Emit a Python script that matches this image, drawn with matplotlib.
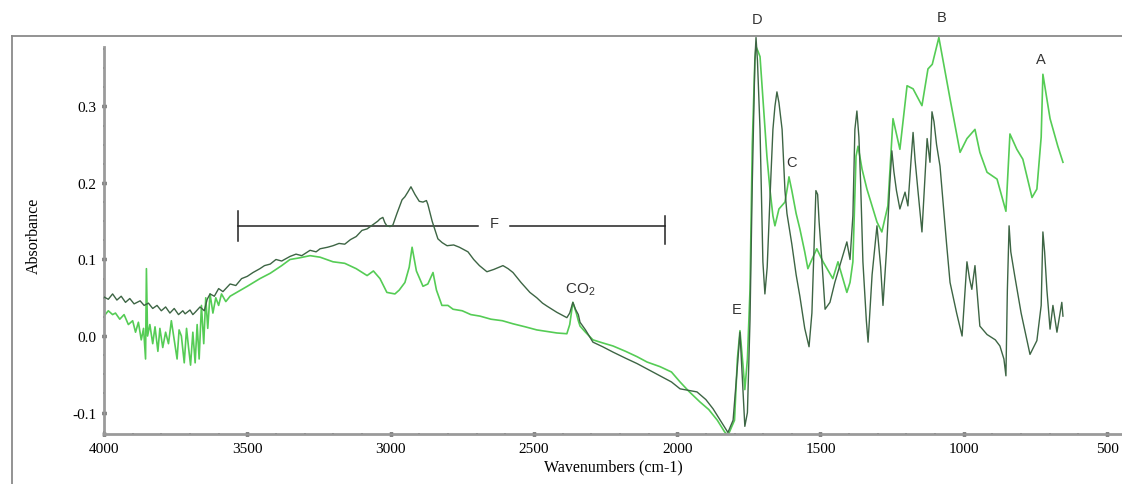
import matplotlib
matplotlib.use("Agg")
import matplotlib.pyplot as plt
from matplotlib.ticker import MultipleLocator, FormatStrFormatter
from matplotlib.lines import Line2D

plt.rcParams['axes.unicode_minus'] = False
plt.rcParams['mathtext.fontset'] = 'custom'
plt.rcParams['mathtext.rm'] = 'Liberation Sans'

# ---- data (wavenumber cm-1, absorbance) ----
dark_wn = [4000, 3985, 3970, 3955, 3940, 3925, 3910, 3895, 3874, 3860, 3845, 3830, 3815, 3800,
           3785, 3770, 3755, 3740, 3725, 3717, 3700, 3690, 3682, 3665, 3650, 3640, 3630, 3615,
           3600, 3585, 3560, 3540, 3520, 3500, 3480, 3456, 3440, 3420, 3400, 3380, 3351, 3330,
           3310, 3281, 3260, 3246, 3220, 3201, 3180, 3160, 3140, 3120, 3100, 3082, 3060, 3045,
           3037, 3027, 3020, 3013, 3002, 2992, 2978, 2960, 2950, 2940, 2929, 2915, 2900, 2887,
           2875, 2870, 2855, 2835, 2820, 2803, 2780, 2760, 2730, 2710, 2690, 2664, 2640, 2608,
           2590, 2573, 2545, 2514, 2490, 2470, 2454, 2420, 2385, 2375, 2364, 2355, 2345, 2339,
           2320, 2294, 2260, 2224, 2180, 2140, 2105, 2060, 2020, 1990, 1960, 1931, 1900, 1875,
           1850, 1823, 1805, 1790, 1781, 1772, 1764, 1755, 1746, 1738, 1729, 1725, 1720, 1711,
           1701, 1694, 1686, 1676, 1666, 1659, 1652, 1645, 1634, 1624, 1617, 1600, 1585, 1572,
           1555, 1540, 1530, 1522, 1516, 1510, 1505, 1495, 1484, 1467, 1450, 1430, 1408, 1397,
           1387, 1380, 1373, 1366, 1360, 1352, 1340, 1334, 1320, 1303, 1290, 1282, 1270, 1258,
           1251, 1244, 1235, 1223, 1205, 1195, 1184, 1177, 1170, 1160, 1146, 1128, 1118, 1111,
           1104, 1095, 1083, 1060, 1048, 1025, 1006, 989, 980, 972, 961, 944, 919, 890, 874, 860,
           853, 848, 842, 836, 822, 800, 769, 750, 745, 730, 724, 718, 710, 699, 689, 675, 658,
           654]
dark_ab = [0.051, 0.048, 0.055, 0.047, 0.052, 0.044, 0.049, 0.042, 0.046, 0.040, 0.043, 0.036,
           0.040, 0.033, 0.038, 0.030, 0.036, 0.028, 0.033, 0.029, 0.034, 0.028, 0.031, 0.038,
           0.033, 0.048, 0.055, 0.052, 0.062, 0.058, 0.068, 0.066, 0.075, 0.078, 0.083, 0.088,
           0.092, 0.094, 0.100, 0.098, 0.104, 0.107, 0.105, 0.112, 0.110, 0.114, 0.116, 0.118,
           0.121, 0.120, 0.126, 0.130, 0.138, 0.140, 0.146, 0.150, 0.153, 0.155, 0.148, 0.144,
           0.143, 0.145, 0.160, 0.178, 0.182, 0.188, 0.195, 0.185, 0.176, 0.175, 0.177, 0.172,
           0.150, 0.127, 0.122, 0.118, 0.119, 0.116, 0.110, 0.100, 0.092, 0.084, 0.087, 0.092,
           0.088, 0.083, 0.070, 0.057, 0.050, 0.043, 0.039, 0.031, 0.024, 0.030, 0.044, 0.035,
           0.028, 0.018, 0.008, -0.008, -0.014, -0.021, -0.029, -0.036, -0.043, -0.052, -0.060,
           -0.069, -0.071, -0.073, -0.083, -0.095, -0.110, -0.126, -0.110, -0.040, 0.005, -0.060,
           -0.118, -0.100, 0.020, 0.200, 0.360, 0.390, 0.360, 0.270, 0.097, 0.055, 0.090, 0.183,
           0.270, 0.300, 0.319, 0.305, 0.270, 0.190, 0.160, 0.120, 0.080, 0.052, 0.010, -0.014,
           0.030, 0.120, 0.190, 0.185, 0.150, 0.097, 0.035, 0.044, 0.070, 0.095, 0.123, 0.100,
           0.157, 0.270, 0.294, 0.260, 0.200, 0.097, 0.020, -0.008, 0.080, 0.144, 0.090, 0.040,
           0.110, 0.200, 0.242, 0.215, 0.190, 0.166, 0.188, 0.170, 0.230, 0.266, 0.230, 0.190,
           0.136, 0.258, 0.227, 0.293, 0.280, 0.250, 0.222, 0.120, 0.070, 0.030, 0.000, 0.097,
           0.075, 0.061, 0.092, 0.013, 0.002, -0.005, -0.013, -0.030, -0.052, 0.060, 0.144, 0.110,
           0.078, 0.030, -0.024, -0.010, -0.006, 0.040, 0.136, 0.110, 0.060, 0.009, 0.040, 0.005,
           0.044, 0.026]

light_wn = [4000, 3985, 3970, 3960, 3945, 3930, 3915, 3900, 3890, 3880, 3870, 3862, 3855, 3852,
            3848, 3840, 3830, 3822, 3812, 3805, 3795, 3785, 3775, 3765, 3755, 3745, 3738, 3730,
            3720, 3712, 3705, 3698, 3690, 3682, 3675, 3668, 3660, 3652, 3645, 3638, 3630, 3620,
            3610, 3600, 3590, 3575, 3560, 3500, 3456, 3420, 3380, 3351, 3320, 3281, 3246, 3201,
            3160, 3120, 3082, 3060, 3037, 3013, 2985, 2970, 2950, 2935, 2925, 2910, 2887, 2870,
            2852, 2840, 2821, 2800, 2782, 2750, 2720, 2688, 2650, 2610, 2573, 2530, 2490, 2454,
            2420, 2385, 2375, 2364, 2352, 2345, 2339, 2320, 2294, 2260, 2224, 2180, 2140, 2105,
            2060, 2020, 1990, 1960, 1921, 1890, 1860, 1835, 1823, 1800, 1790, 1781, 1770, 1764,
            1755, 1746, 1738, 1729, 1725, 1718, 1711, 1701, 1687, 1676, 1666, 1659, 1645, 1624,
            1615, 1610, 1600, 1585, 1572, 1555, 1544, 1530, 1513, 1491, 1457, 1439, 1408, 1397,
            1387, 1376, 1369, 1355, 1338, 1303, 1286, 1265, 1247, 1223, 1198, 1177, 1146, 1125,
            1110, 1087, 1048, 1013, 989, 961, 944, 919, 884, 853, 839, 815, 794, 762, 745, 730,
            724, 699, 672, 654]
light_ab = [0.026, 0.033, 0.028, 0.030, 0.022, 0.028, 0.015, 0.020, 0.005, 0.018, -0.005, 0.010,
            -0.030, 0.088, 0.000, 0.015, -0.010, 0.012, -0.020, 0.010, -0.015, 0.005, -0.010,
            0.020, -0.005, -0.030, 0.008, 0.000, -0.035, 0.010, -0.015, -0.038, 0.005, -0.035,
            0.015, -0.030, 0.040, -0.010, 0.050, 0.010, 0.055, 0.030, 0.050, 0.040, 0.055, 0.045,
            0.052, 0.065, 0.075, 0.082, 0.092, 0.100, 0.102, 0.105, 0.103, 0.097, 0.095, 0.088,
            0.079, 0.085, 0.075, 0.057, 0.055, 0.060, 0.070, 0.090, 0.116, 0.085, 0.065, 0.068,
            0.083, 0.060, 0.040, 0.040, 0.035, 0.033, 0.028, 0.026, 0.022, 0.020, 0.016, 0.012,
            0.008, 0.006, 0.004, 0.003, 0.015, 0.044, 0.030, 0.020, 0.013, 0.005, -0.005, -0.009,
            -0.013, -0.020, -0.027, -0.034, -0.040, -0.047, -0.060, -0.072, -0.086, -0.096,
            -0.110, -0.125, -0.130, -0.110, -0.030, 0.007, -0.040, -0.070, -0.030, 0.060, 0.250,
            0.360, 0.378, 0.372, 0.365, 0.310, 0.235, 0.190, 0.157, 0.144, 0.166, 0.175, 0.195,
            0.208, 0.190, 0.160, 0.140, 0.110, 0.088, 0.100, 0.114, 0.097, 0.075, 0.097, 0.057,
            0.070, 0.097, 0.235, 0.248, 0.218, 0.192, 0.149, 0.136, 0.170, 0.284, 0.244, 0.327,
            0.323, 0.301, 0.349, 0.355, 0.390, 0.310, 0.240, 0.258, 0.270, 0.240, 0.214, 0.205,
            0.163, 0.264, 0.244, 0.231, 0.181, 0.192, 0.260, 0.342, 0.284, 0.248, 0.227]

x_ticks = [4000, 3500, 3000, 2500, 2000, 1500, 1000, 500]
y_ticks = [-0.1, 0.0, 0.1, 0.2, 0.3]

# ---- figure ----
W, H = 1122, 485
fig = plt.figure(figsize=(W / 100, H / 100), dpi=100)
ax = fig.add_axes([104 / W, 50 / H, (W - 104) / W, (435 - 37) / H])

ax.plot(dark_wn, dark_ab, color='#3d6544', lw=1.0, zorder=3)
ax.plot(light_wn, light_ab, color='#55cc55', lw=1.2, zorder=2)

ax.set_xlim(4000, 448)
ax.set_ylim(-0.128, 0.392)

ax.xaxis.set_minor_locator(MultipleLocator(100))
ax.yaxis.set_minor_locator(MultipleLocator(0.025))
ax.set_xticks(x_ticks)
ax.set_yticks(y_ticks)
ax.yaxis.set_major_formatter(FormatStrFormatter('%.1f'))

for s in ['top', 'right']:
    ax.spines[s].set_visible(False)
for s in ['left', 'bottom']:
    ax.spines[s].set_color('#9a9a9a')
    ax.spines[s].set_linewidth(2)
ax.spines['left'].set_bounds(-0.128, 0.377)

ax.tick_params(which='major', direction='inout', length=3, width=2.5, color='#111111',
               labelsize=11, pad=4)
ax.tick_params(which='minor', direction='inout', length=2, width=1.4, color='#444444')
for lab in ax.get_xticklabels() + ax.get_yticklabels():
    lab.set_fontfamily('Liberation Serif')

ax.set_xlabel('Wavenumbers (cm-1)', fontfamily='Liberation Serif', fontsize=11.5, labelpad=3)
ax.set_ylabel('Absorbance', fontfamily='Liberation Serif', fontsize=11.5, labelpad=22)

# ---- annotations ----
ann_font = dict(fontfamily='Liberation Sans', fontsize=10.5, color='#333333',
                ha='center', va='center', clip_on=False)
ax.text(1722, 0.414, 'D', **ann_font)
ax.text(1076, 0.417, 'B', **ann_font)
ax.text(731, 0.362, 'A', **ann_font)
ax.text(1600, 0.227, 'C', **ann_font)
ax.text(1791, 0.035, 'E', **ann_font)
ax.text(2340, 0.062, r'CO$_\mathregular{2}$', **{**ann_font, 'fontsize': 11})
ax.text(2639, 0.148, 'F', **ann_font)

# F range bar
fy = 0.144
ax.plot([3532, 2695], [fy, fy], color='#222222', lw=1.1)
ax.plot([2584, 2043], [fy, fy], color='#222222', lw=1.1)
ax.plot([3532, 3532], [0.124, 0.164], color='#222222', lw=1.1)
ax.plot([2043, 2043], [0.120, 0.157], color='#222222', lw=1.1)

# outer frame lines
fy_top = 1 - 37 / H
fig.add_artist(Line2D([12 / W, 1], [fy_top, fy_top], color='#8a8a8a', lw=1.3))
fig.add_artist(Line2D([12 / W, 12 / W], [0, fy_top], color='#8a8a8a', lw=1.3))

fig.savefig('out.png', dpi=100)
